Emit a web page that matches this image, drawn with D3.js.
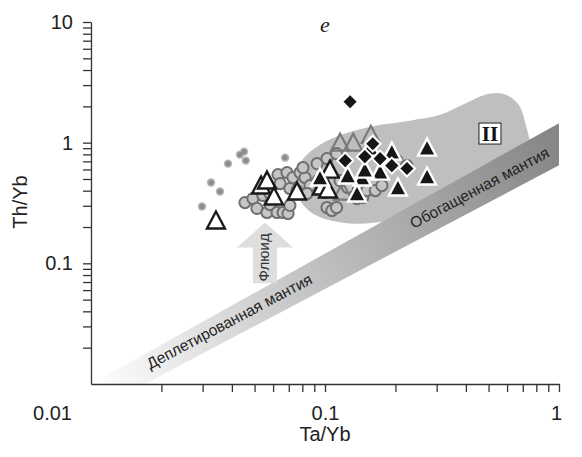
<!DOCTYPE html>
<html><head><meta charset="utf-8">
<script src="https://cdn.jsdelivr.net/npm/d3@7"></script>
<style>body{margin:0;background:#fff}</style>
</head><body>
<svg id="c" width="582" height="457"></svg>
<script>
// ---------- data ----------
const xTickValues = [0.01,0.02,0.03,0.04,0.05,0.06,0.07,0.08,0.09,0.1,0.2,0.3,0.4,0.5,0.6,0.7,0.8,0.9,1];
const xTickLabels = ["0.01","0.1","1"];
const yTickValues = [0.02,0.03,0.04,0.05,0.06,0.07,0.08,0.09,0.1,0.2,0.3,0.4,0.5,0.6,0.7,0.8,0.9,1,2,3,4,5,6,7,8,9,10];
const yTickLabels = ["0.1","1","10"];

const smallDots = [[0.0298,0.296],[0.0326,0.467],[0.0356,0.394],[0.0385,0.670],[0.0433,0.796],[0.0451,0.843],[0.0459,0.710],[0.0675,0.751]];
const grayCircles = [[0.0455,0.319],[0.0492,0.344],[0.0512,0.285],[0.0543,0.365],[0.0565,0.264],[0.0582,0.307],[0.0624,0.264],[0.0662,0.264],[0.0695,0.259],[0.0708,0.302],[0.0582,0.379],[0.0630,0.544],[0.0688,0.565],[0.0729,0.514],[0.0782,0.565],[0.0822,0.514],[0.0643,0.458],[0.0708,0.417],[0.0759,0.401],[0.0863,0.441],[0.0837,0.379],[0.0933,0.485],[0.100,0.386],[0.102,0.290],[0.107,0.274],[0.0805,0.621],[0.0925,0.670],[0.102,0.738],[0.112,0.811],[0.116,0.485],[0.125,0.425],[0.112,0.290],[0.137,0.344],[0.145,0.351],[0.151,0.401],[0.164,0.401],[0.175,0.441],[0.203,0.710],[0.224,0.645]];
const openTriangles = [[0.0342,0.222],[0.0533,0.433],[0.0565,0.476],[0.0605,0.351],[0.0759,0.386],[0.0970,0.425],[0.105,0.587],[0.103,0.401]];
const grayTriangles = [[0.116,0.981],[0.132,0.981],[0.157,1.14],[0.119,0.386]];
const blackTriangles = [[0.0952,0.504],[0.137,0.372],[0.205,0.417],[0.273,0.892],[0.273,0.514],[0.172,0.565],[0.193,0.827],[0.156,0.892],[0.144,0.504],[0.125,0.524],[0.148,0.587]];
const diamonds = [[0.128,2.18],[0.122,0.710],[0.148,0.766],[0.160,0.981],[0.172,0.738],[0.193,0.645],[0.224,0.610]];

const mantleUpper = [[0.01,0.01],[1,1.45]];
const mantleLower = [[0.017,0.01],[1,0.65]];
const regionII = [[0.0752,0.441],[0.0798,0.710],[0.0952,0.963],[0.122,1.19],[0.164,1.38],[0.231,1.52],[0.310,1.70],[0.396,2.10],[0.483,2.49],[0.577,2.54],[0.668,2.10],[0.723,1.38],[0.752,0.859],[0.681,0.534],[0.310,0.302],[0.190,0.227],[0.128,0.214],[0.0933,0.245],[0.0798,0.313]];
const fluidArrow = [[0.0554,0.0684],[0.0554,0.218]];

const labelDepleted = "Деплетированная мантия";
const labelEnriched = "Обогащенная мантия";
const labelFluid = "Флюид";

// ---------- drawing ----------
const svg = d3.select("#c");
const x = d3.scaleLog().domain([0.01,1]).range([91,559]);
const y = d3.scaleLog().domain([0.01,10]).range([384,22]);
const font = "'Liberation Sans', Arial, sans-serif";

const defs = svg.append("defs");
const grad = defs.append("linearGradient").attr("id","band").attr("gradientUnits","userSpaceOnUse")
  .attr("x1",x(0.01)).attr("y1",y(0.01)).attr("x2",x(1)).attr("y2",y(0.9));
grad.append("stop").attr("offset","0").attr("stop-color","#ffffff");
grad.append("stop").attr("offset","0.45").attr("stop-color","#c4c4c4");
grad.append("stop").attr("offset","1").attr("stop-color","#868686");

// Region II
svg.append("path")
  .datum(regionII)
  .attr("d", d3.line().x(d=>x(d[0])).y(d=>y(d[1])).curve(d3.curveCatmullRomClosed.alpha(0.5)))
  .attr("fill","#bfbfbf");

// mantle band
const bandPts = [mantleUpper[0], mantleUpper[1], mantleLower[1], mantleLower[0]];
svg.append("path")
  .attr("d", d3.line().x(d=>x(d[0])).y(d=>y(d[1]))(bandPts) + "Z")
  .attr("fill","url(#band)");

const angle = -28;
svg.append("text").attr("transform",`translate(${x(0.0400)},${y(0.0302)}) rotate(${angle})`)
  .attr("text-anchor","middle").attr("font-family",font).attr("font-size",15.5).attr("fill","#222")
  .text(labelDepleted);
svg.append("text").attr("transform",`translate(${x(0.469)},${y(0.386)}) rotate(${angle})`)
  .attr("text-anchor","middle").attr("font-family",font).attr("font-size",15.5).attr("fill","#222")
  .text(labelEnriched);

// fluid arrow
{
  const ax = x(fluidArrow[0][0]), yb = y(fluidArrow[0][1]), yt = y(fluidArrow[1][1]);
  const hb = yt + 25;
  svg.append("path")
    .attr("d",`M${ax-12},${yb}L${ax-12},${hb}L${ax-28},${hb}L${ax},${yt}L${ax+28},${hb}L${ax+12},${hb}L${ax+12},${yb}Z`)
    .attr("fill","#dedede");
  svg.append("text").attr("transform",`translate(${ax+4},${(yb+hb)/2-8}) rotate(-90)`)
    .attr("text-anchor","middle").attr("font-family",font).attr("font-size",15).attr("fill","#333")
    .text(labelFluid);
}

// small dots
const gDots = svg.append("g");
gDots.selectAll("circle.o").data(smallDots).join("circle")
  .attr("cx",d=>x(d[0])).attr("cy",d=>y(d[1])).attr("r",4.2).attr("fill","#b4b4b4");
gDots.selectAll("circle.i").data(smallDots).join("circle").attr("class","i")
  .attr("cx",d=>x(d[0])).attr("cy",d=>y(d[1])).attr("r",2.6).attr("fill","#8c8c8c");

// gray circles
svg.append("g").selectAll("circle").data(grayCircles).join("circle")
  .attr("cx",d=>x(d[0])).attr("cy",d=>y(d[1])).attr("r",5.6)
  .attr("fill","#c6c6c6").attr("stroke","#6f6f6f").attr("stroke-width",2);

const tri = "M0,-10L9,7L-9,7Z";
// gray triangles
svg.append("g").selectAll("path").data(grayTriangles).join("path")
  .attr("transform",d=>`translate(${x(d[0])},${y(d[1])})`).attr("d",tri)
  .attr("fill","none").attr("stroke","#7a7a7a").attr("stroke-width",2.2);
// open triangles
svg.append("g").selectAll("path").data(openTriangles).join("path")
  .attr("transform",d=>`translate(${x(d[0])},${y(d[1])})`).attr("d",tri)
  .attr("fill","#fff").attr("stroke","#1a1a1a").attr("stroke-width",2.4);
// black triangles
svg.append("g").selectAll("path").data(blackTriangles).join("path")
  .attr("transform",d=>`translate(${x(d[0])},${y(d[1])})`).attr("d",tri)
  .attr("fill","#161616").attr("stroke","#fff").attr("stroke-width",2.4);
// diamonds
svg.append("g").selectAll("path").data(diamonds).join("path")
  .attr("transform",d=>`translate(${x(d[0])},${y(d[1])})`).attr("d","M0,-8L8,0L0,8L-8,0Z")
  .attr("fill","#161616").attr("stroke","#fff").attr("stroke-width",2);

// II label
{
  const lx = x(0.507), ly = y(1.19);
  svg.append("rect").attr("x",lx-11).attr("y",ly-10.5).attr("width",22).attr("height",21)
    .attr("fill","#fff").attr("stroke","#222").attr("stroke-width",1);
  svg.append("text").attr("x",lx).attr("y",ly+7).attr("text-anchor","middle")
    .attr("font-family","'Liberation Serif', 'Times New Roman', serif").attr("font-weight","bold")
    .attr("font-size",21).attr("fill","#111").text("II");
}

// axes
const gx = svg.append("g").attr("transform","translate(0,384)")
  .call(d3.axisBottom(x).tickValues(xTickValues)
    .tickFormat(d=>{const s=String(d); return xTickLabels.includes(s)?s:"";})
    .tickSize(8).tickSizeOuter(0).tickPadding(14));
const gy = svg.append("g").attr("transform","translate(91,0)")
  .call(d3.axisLeft(y).tickValues(yTickValues)
    .tickFormat(d=>{const s=String(d); return yTickLabels.includes(s)?s:"";})
    .tickSize(8).tickSizeOuter(0).tickPadding(10));
[gx,gy].forEach(g=>{
  g.select(".domain").attr("stroke","#333").attr("stroke-width",1.3);
  g.selectAll(".tick line").attr("stroke","#333").attr("stroke-width",1.3);
  g.selectAll(".tick text").attr("font-family",font).attr("font-size",20).attr("fill","#222");
});
// corner 0.01 label: no tick, label shifted left
gx.selectAll(".tick").filter(d=>d===0.01).select("line").remove();
gx.selectAll(".tick").filter(d=>d===0.01).select("text").attr("x",-39);
gx.selectAll(".tick").filter(d=>d===1).select("text").attr("x",-3);

svg.append("text").attr("x",x(0.1)).attr("y",441).attr("text-anchor","middle")
  .attr("font-family",font).attr("font-size",20).attr("fill","#222").text("Ta/Yb");
svg.append("text").attr("transform","translate(27,202) rotate(-90)").attr("text-anchor","middle")
  .attr("font-family",font).attr("font-size",20).attr("fill","#222").text("Th/Yb");
svg.append("text").attr("x",325).attr("y",32).attr("text-anchor","middle")
  .attr("font-family","'Liberation Serif', 'DejaVu Serif', serif").attr("font-style","italic")
  .attr("font-size",22).attr("fill","#222").text("e");
</script>
</body></html>
